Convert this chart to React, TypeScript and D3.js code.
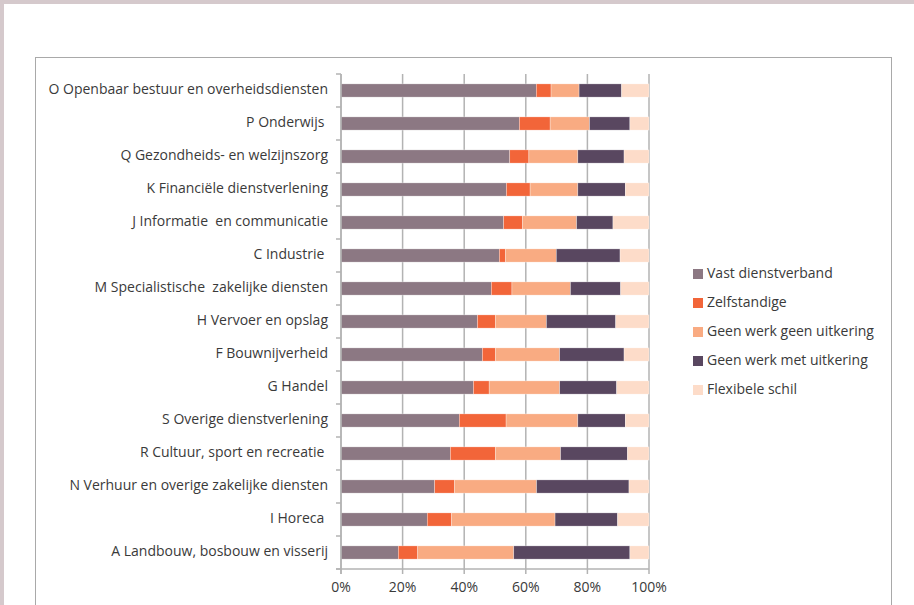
import React from 'react';
import * as d3 from 'd3';

// sectors, top to bottom
const sectors = [
  'O Openbaar bestuur en overheidsdiensten',
  'P Onderwijs ',
  'Q Gezondheids- en welzijnszorg',
  'K Financiële dienstverlening',
  'J Informatie  en communicatie',
  'C Industrie ',
  'M Specialistische  zakelijke diensten',
  'H Vervoer en opslag',
  'F Bouwnijverheid',
  'G Handel',
  'S Overige dienstverlening',
  'R Cultuur, sport en recreatie ',
  'N Verhuur en overige zakelijke diensten',
  'I Horeca ',
  'A Landbouw, bosbouw en visserij',
];

const seriesNames = [
  'Vast dienstverband',
  'Zelfstandige',
  'Geen werk geen uitkering',
  'Geen werk met uitkering',
  'Flexibele schil',
];

const vast = [63.4, 57.9, 54.8, 53.7, 52.8, 51.4, 48.8, 44.3, 45.9, 43.0, 38.4, 35.5, 30.4, 28.0, 18.6];
const zelfstandig = [4.8, 10.0, 6.2, 7.7, 6.1, 2.0, 6.7, 5.8, 4.2, 5.1, 15.2, 14.6, 6.4, 7.9, 6.3];
const geenGeen = [9.1, 12.8, 15.9, 15.5, 17.6, 16.5, 19.0, 16.6, 20.9, 22.9, 23.3, 21.2, 26.7, 33.6, 31.2];
const geenMet = [13.8, 13.1, 15.0, 15.4, 11.8, 20.7, 16.3, 22.5, 20.9, 18.5, 15.4, 21.7, 30.0, 20.3, 37.7];
const flexibel = [8.9, 6.2, 8.1, 7.7, 11.7, 9.4, 9.2, 10.8, 8.1, 10.5, 7.7, 7.0, 6.5, 10.2, 6.2];

const xTicks = [0, 20, 40, 60, 80, 100];

const colors = ['#8c7883', '#f26539', '#f9ab82', '#594760', '#fddcc9'];

const W = 914;
const H = 605;
const font = '"Open Sans", sans-serif';

export default function App() {
  const series = [vast, zelfstandig, geenGeen, geenMet, flexibel];
  const rows = sectors.map((s, i) => {
    const r: any = { sector: s };
    seriesNames.forEach((n, k) => (r[n] = series[k][i]));
    return r;
  });
  const stacked = d3.stack<any>().keys(seriesNames)(rows);

  const x = d3.scaleLinear().domain([0, 100]).range([341, 649]);
  const y = d3.scaleBand().domain(sectors).range([74, 569]).paddingInner(0.6).paddingOuter(0.3);
  const band = d3.scaleBand().domain(sectors).range([74, 569]);

  const axisColor = '#b3b3b3';
  const textColor = '#3a3a3a';

  return (
    <div style={{ position: 'absolute', left: 0, top: 0 }}>
      <svg width={W} height={H} style={{ display: 'block' }}>
        <rect x={0} y={0} width={W} height={H} fill="#fff" />
        <rect x={0} y={0} width={W} height={4} fill="#d5c9cc" />
        <rect x={0} y={0} width={4} height={H} fill="#d5c9cc" />
        <rect x={35.5} y={57.5} width={856} height={H} fill="#fff" stroke="#a9a9a9" strokeWidth={1} />

        {/* grid */}
        {xTicks.map((t) => (
          <line key={t} x1={x(t)} x2={x(t)} y1={74} y2={569} stroke={axisColor} strokeWidth={1.5} />
        ))}

        {/* bars */}
        {stacked.map((s, k) => (
          <g key={s.key} fill={colors[k]}>
            {s.map((d, i) => (
              <rect
                key={i}
                x={x(d[0])}
                y={y(sectors[i])}
                width={x(d[1]) - x(d[0])}
                height={y.bandwidth()}
                stroke="#fff"
                strokeOpacity={0.6}
                strokeWidth={0.5}
              />
            ))}
          </g>
        ))}

        {/* y axis */}
        <line x1={341} x2={341} y1={74} y2={574} stroke={axisColor} strokeWidth={1.5} />
        {sectors.map((s, i) => (
          <line key={i} x1={336} x2={341} y1={band(s)!} y2={band(s)!} stroke={axisColor} strokeWidth={1.5} />
        ))}
        <line x1={336} x2={341} y1={569} y2={569} stroke={axisColor} strokeWidth={1.5} />
        {sectors.map((s) => (
          <text
            key={s}
            x={328}
            y={band(s)! + band.bandwidth() / 2}
            textAnchor="end"
            dominantBaseline="middle"
            fontFamily={font}
            fontSize={14}
            fill={textColor}
            style={{ whiteSpace: 'pre' }}
          >
            {s}
          </text>
        ))}

        {/* x axis */}
        <line x1={336} x2={649} y1={569} y2={569} stroke={axisColor} strokeWidth={1.5} />
        {xTicks.map((t) => (
          <g key={t}>
            <line x1={x(t)} x2={x(t)} y1={569} y2={574} stroke={axisColor} strokeWidth={1.5} />
            <text x={x(t)} y={592} textAnchor="middle" fontFamily={font} fontSize={14} fill={textColor}>
              {t}%
            </text>
          </g>
        ))}

        {/* legend */}
        {seriesNames.map((n, k) => (
          <g key={n} transform={`translate(693, ${274 + k * 29})`}>
            <rect x={0} y={-5} width={10} height={10} fill={colors[k]} />
            <text x={14} y={0} dominantBaseline="middle" fontFamily={font} fontSize={14} fill={textColor}>
              {n}
            </text>
          </g>
        ))}
      </svg>
    </div>
  );
}
